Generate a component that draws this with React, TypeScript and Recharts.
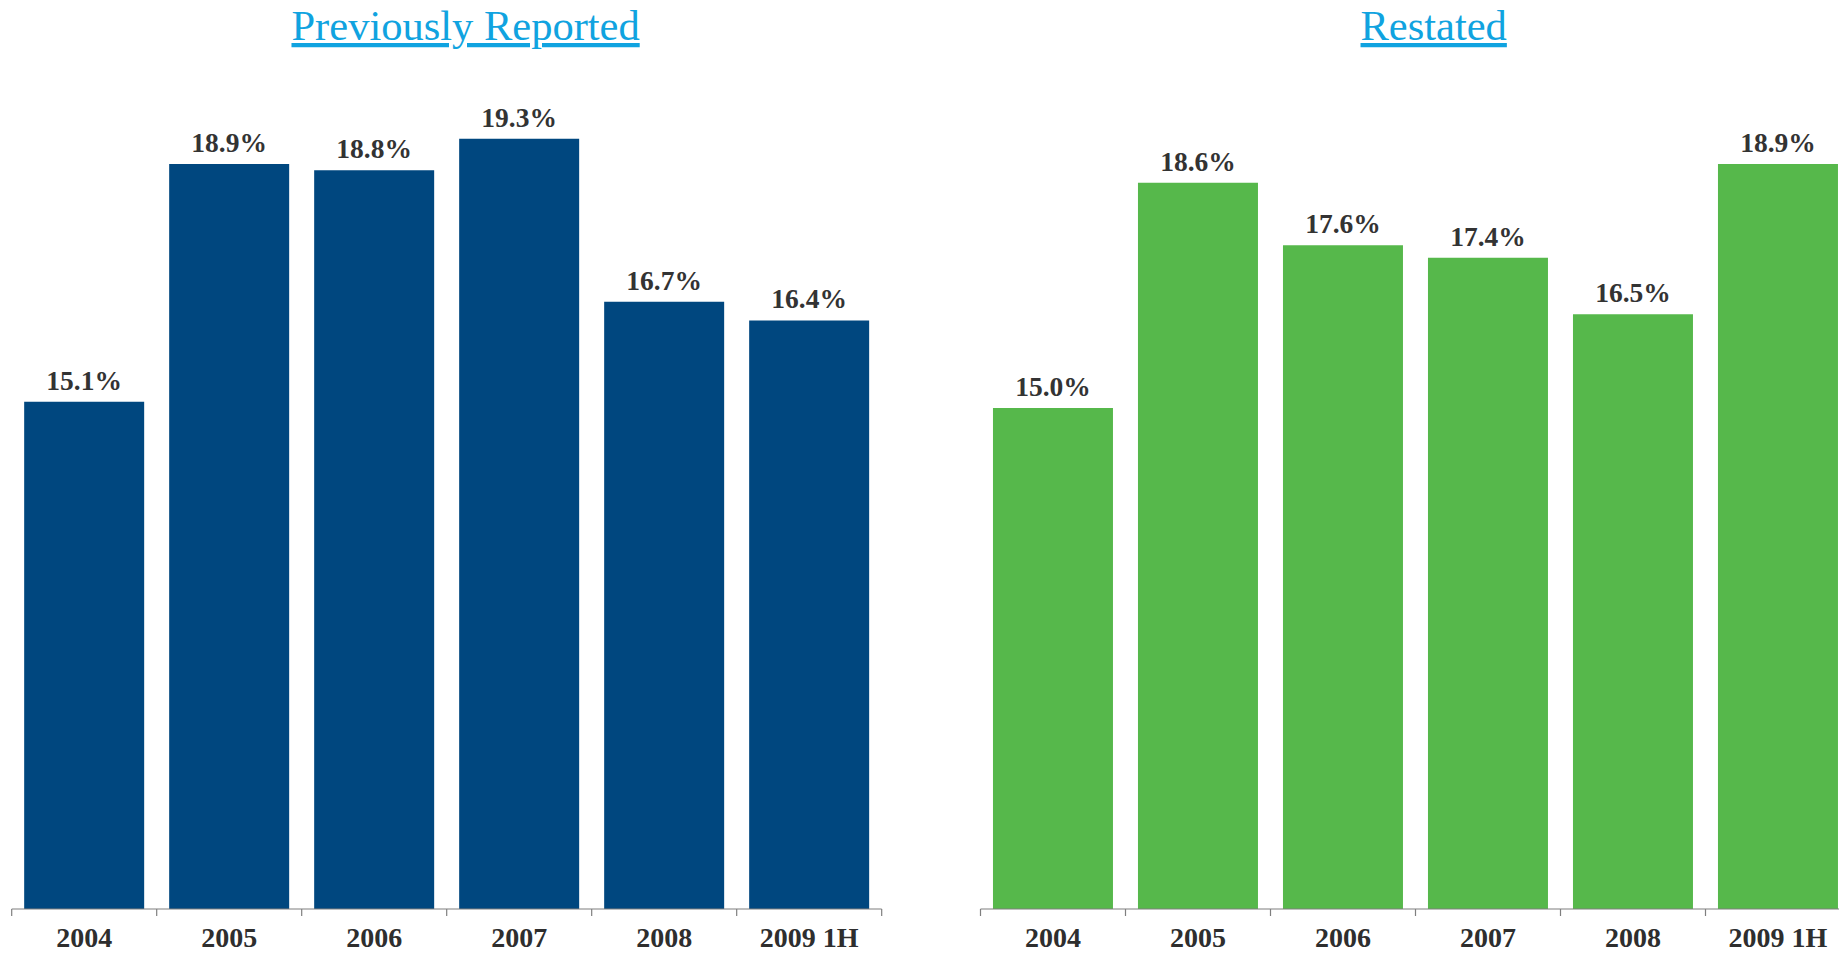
import React from 'react';
import { BarChart, Bar, XAxis, YAxis, LabelList } from 'recharts';

const categories = ['2004', '2005', '2006', '2007', '2008', '2009 1H'];
const previouslyReported = [15.1, 18.9, 18.8, 19.3, 16.7, 16.4];
const restated = [15.0, 18.6, 17.6, 17.4, 16.5, 18.9];
const titles = ['Previously Reported', 'Restated'];
const yDomain = [7, 20];

const FONT = '"Liberation Serif", "Times New Roman", Times, serif';
const PLOT_W = 870;
const TICK_SIZE = 7;
const TICK_MARGIN = 2;

const makeRows = (vals: number[]) => categories.map((c, i) => ({ name: c, value: vals[i] }));

const makeTick = (count: number) => (props: any) => {
  const { x, y, payload, index } = props;
  const step = PLOT_W / count;
  const axisY = y - TICK_SIZE - TICK_MARGIN;
  return (
    <g>
      <line x1={x - step / 2} x2={x - step / 2} y1={axisY} y2={axisY + TICK_SIZE} stroke="#7f7f7f" strokeWidth={1.2} />
      {index === count - 1 && (
        <line x1={x + step / 2} x2={x + step / 2} y1={axisY} y2={axisY + TICK_SIZE} stroke="#7f7f7f" strokeWidth={1.2} />
      )}
      <text x={x} y={axisY + 38} textAnchor="middle" fontFamily={FONT} fontWeight="bold" fontSize={28} fill="#2e2e2e">
        {payload.value}
      </text>
    </g>
  );
};

function Panel({ data, color, left, marginLeft }: { data: any[]; color: string; left: number; marginLeft: number }) {
  return (
    <div style={{ position: 'absolute', left, top: 0 }}>
      <BarChart
        width={PLOT_W + marginLeft + 30}
        height={954}
        data={data}
        margin={{ top: 95, right: 30, bottom: 0, left: marginLeft }}
        barCategoryGap="8.6%"
      >
        <YAxis hide domain={yDomain} type="number" allowDataOverflow />
        <XAxis
          dataKey="name"
          height={45}
          axisLine={{ stroke: '#7f7f7f', strokeWidth: 1.2 }}
          tickLine={false}
          tickSize={TICK_SIZE}
          tickMargin={TICK_MARGIN}
          interval={0}
          tick={makeTick(data.length)}
        />
        <Bar dataKey="value" fill={color} isAnimationActive={false}>
          <LabelList
            dataKey="value"
            position="top"
            offset={12}
            formatter={(v: any) => `${Number(v).toFixed(1)}%`}
            style={{ fontFamily: FONT, fontWeight: 'bold', fontSize: 27.5, fill: '#333333' }}
          />
        </Bar>
      </BarChart>
    </div>
  );
}

export default function App() {
  return (
    <div style={{ position: 'absolute', left: 0, top: 0, width: 1839, height: 954, overflow: 'hidden', background: '#ffffff' }}>
      <Panel data={makeRows(previouslyReported)} color="#00477F" left={0} marginLeft={11.7} />
      <Panel data={makeRows(restated)} color="#56B84B" left={960} marginLeft={20.5} />
      <svg width={1839} height={954} style={{ position: 'absolute', left: 0, top: 0, pointerEvents: 'none' }}>
        <text x={465.6} y={40} textAnchor="middle" fontFamily={FONT} fontSize={42.5} fill="#10A3E0" style={{ textDecoration: 'underline' }}>
          {titles[0]}
        </text>
        <text x={1433.7} y={40} textAnchor="middle" fontFamily={FONT} fontSize={42.5} fill="#10A3E0" style={{ textDecoration: 'underline' }}>
          {titles[1]}
        </text>
      </svg>
    </div>
  );
}
